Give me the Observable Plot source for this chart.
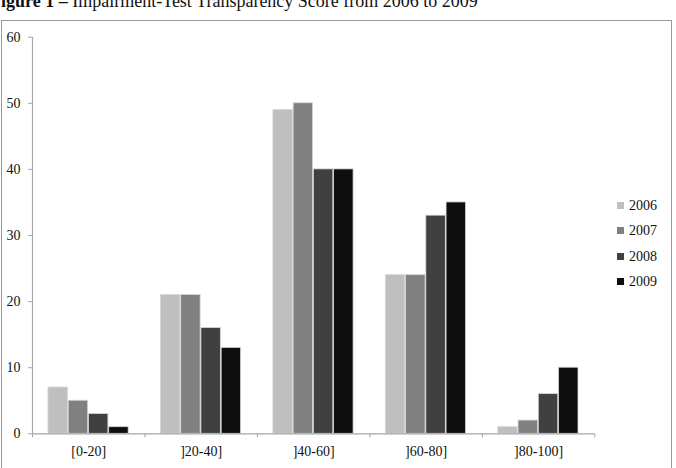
<!DOCTYPE html>
<html>
<head>
<meta charset="utf-8">
<script src="https://cdn.jsdelivr.net/npm/d3@7"></script>
<script src="https://cdn.jsdelivr.net/npm/@observablehq/plot@0.6"></script>
<style>
  html, body { margin: 0; padding: 0; background: #fff; overflow: hidden; }
  body { width: 676px; height: 468px; position: relative; font-family: "Liberation Serif", "DejaVu Serif", serif; }
  #title { position: absolute; left: -10px; top: -8px; font-size: 18px; line-height: 18px; white-space: nowrap; color: #111; }
  #box { position: absolute; left: 1px; top: 20px; width: 671px; height: 460px; border: 1px solid #9a9a9a; box-sizing: border-box; }
  #chart { position: absolute; left: 0; top: 20px; }
  #legend { position: absolute; left: 617px; top: 193px; font-size: 14px; color: #111; }
  .item { height: 25.3px; line-height: 25.3px; white-space: nowrap; }
  .sw { display: inline-block; width: 7px; height: 7px; margin-right: 5px; vertical-align: 1px; }
  svg text { font-family: "Liberation Serif", serif; }
</style>
</head>
<body>
<div id="title"><b>Figure 1 –</b> Impairment-Test Transparency Score from 2006 to 2009</div>
<div id="box"></div>
<div id="chart"></div>
<div id="legend"></div>
<script>
const categories = ["[0-20]", "]20-40]", "]40-60]", "]60-80]", "]80-100]"];
const years = ["2006", "2007", "2008", "2009"];
const v2006 = [7, 21, 49, 24, 1];
const v2007 = [5, 21, 50, 24, 2];
const v2008 = [3, 16, 40, 33, 6];
const v2009 = [1, 13, 40, 35, 10];
const yTicks = [0, 10, 20, 30, 40, 50, 60];
const colors = ["#bfbfbf", "#808080", "#404040", "#0e0e0e"];

const series = [v2006, v2007, v2008, v2009];
const pad = 0.142, bw = 0.173, step = 0.180;
const data = [];
categories.forEach((c, ci) => {
  years.forEach((y, yi) => {
    const x1 = ci + pad + yi * step;
    data.push({category: c, year: y, value: series[yi][ci], x1, x2: x1 + bw});
  });
});

const chart = Plot.plot({
  width: 676,
  height: 448,
  marginLeft: 32,
  marginRight: 81.7,
  marginTop: 16.7,
  marginBottom: 34.7,
  style: {background: "transparent", fontSize: "14px", fontFamily: "Liberation Serif, serif", color: "#111"},
  x: {domain: [0, categories.length], axis: null, label: null},
  y: {domain: [0, 60], axis: null, label: null},
  color: {domain: years, range: colors},
  marks: [
    Plot.rectY(data, {x1: "x1", x2: "x2", y: "value", fill: "year", stroke: "#d6d6d6", strokeWidth: 0.8}),
    Plot.ruleY([0], {stroke: "#a6a6a6", strokeWidth: 1.2}),
    Plot.ruleX([0], {stroke: "#a6a6a6", strokeWidth: 1.2}),
    Plot.axisY({ticks: yTicks, tickSize: 4, tickPadding: 8, stroke: "#a6a6a6", fill: "#111", fontSize: 14, label: null}),
    Plot.axisX({ticks: d3.range(categories.length + 1), tickSize: 4, tickFormat: () => "", stroke: "#a6a6a6", label: null}),
    Plot.axisX({ticks: categories.map((c, i) => i + 0.5), tickSize: 0, tickPadding: 12, tickFormat: d => categories[Math.round(d - 0.5)], fill: "#111", fontSize: 14, label: null})
  ]
});
document.getElementById("chart").appendChild(chart);

const legend = document.getElementById("legend");
years.forEach((y, i) => {
  const item = document.createElement("div");
  item.className = "item";
  item.innerHTML = `<span class="sw" style="background:${colors[i]}"></span>${y}`;
  legend.appendChild(item);
});
</script>
</body>
</html>
